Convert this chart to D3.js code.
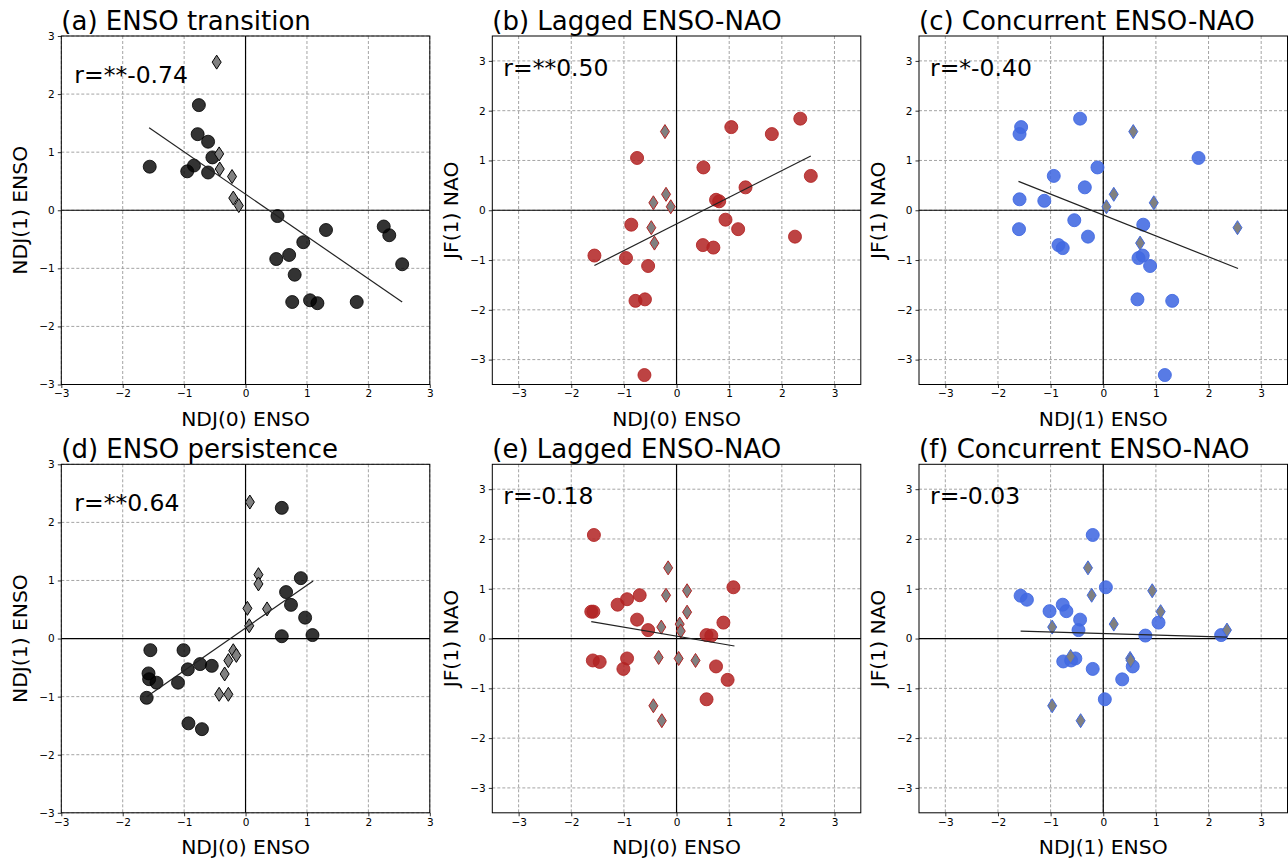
<!DOCTYPE html>
<html>
<head>
<meta charset="utf-8">
<script src="https://cdn.jsdelivr.net/npm/d3@7"></script>
<style>
  html, body { margin: 0; padding: 0; background: #fff; }
  svg { display: block; font-family: "DejaVu Sans", sans-serif; }
</style>
</head>
<body>
<script>
// ---------------- DATA ----------------
const tickValues = [-3, -2, -1, 0, 1, 2, 3];

// (a) ENSO transition: NDJ(0) ENSO vs NDJ(1) ENSO
const aCircX = [-1.56, -0.76, -0.78, -0.61, -0.54, -0.84, -0.95, -0.61, 0.52, 1.31, 0.94, 0.50, 0.71, 0.80, 0.76, 1.05, 1.17, 1.81, 2.25, 2.34, 2.55];
const aCircY = [0.75, 1.81, 1.31, 1.18, 0.91, 0.77, 0.67, 0.65, -0.10, -0.34, -0.55, -0.84, -0.77, -1.11, -1.58, -1.55, -1.60, -1.58, -0.28, -0.43, -0.93];
const aDiaX = [-0.47, -0.43, -0.42, -0.22, -0.20, -0.11];
const aDiaY = [2.55, 0.97, 0.71, 0.58, 0.21, 0.08];
const aFitX = [-1.57, 2.55];
const aFitY = [1.42, -1.58];

// (b) Lagged ENSO-NAO: NDJ(0) ENSO vs JF(1) NAO
const bCircX = [-1.56, -0.96, -0.75, -0.86, -0.54, -0.78, -0.60, -0.61, 0.51, 1.04, 0.75, 0.81, 1.31, 0.93, 1.17, 0.50, 0.70, 1.81, 2.35, 2.55, 2.25];
const bCircY = [-0.91, -0.96, 1.05, -0.29, -1.12, -1.82, -1.79, -3.31, 0.86, 1.67, 0.21, 0.18, 0.46, -0.19, -0.38, -0.70, -0.75, 1.53, 1.84, 0.69, -0.53];
const bDiaX = [-0.22, -0.20, -0.44, -0.11, -0.48, -0.42];
const bDiaY = [1.58, 0.32, 0.15, 0.07, -0.35, -0.66];
const bFitX = [-1.56, 2.55];
const bFitY = [-1.11, 1.09];

// (c) Concurrent ENSO-NAO: NDJ(1) ENSO vs JF(1) NAO
const cCircX = [-1.56, -1.59, -0.44, -1.59, -1.60, -0.94, -1.12, -0.35, -0.11, -0.55, -0.29, -0.85, -0.77, 0.76, 0.75, 0.67, 0.89, 0.65, 1.31, 1.81, 1.17];
const cCircY = [1.67, 1.53, 1.84, 0.22, -0.38, 0.69, 0.19, 0.46, 0.86, -0.20, -0.53, -0.70, -0.76, -0.29, -0.91, -0.96, -1.12, -1.79, -1.82, 1.05, -3.31];
const cDiaX = [0.57, 0.20, 0.06, 0.96, 0.70, 2.55];
const cDiaY = [1.58, 0.32, 0.07, 0.15, -0.66, -0.35];
const cFitX = [-1.61, 2.56];
const cFitY = [0.58, -1.17];

// (d) ENSO persistence: NDJ(0) ENSO vs NDJ(1) ENSO
const dCircX = [-1.55, -1.58, -1.57, -1.45, -1.61, -1.01, -0.94, -0.74, -0.55, -1.10, -0.93, -0.71, 0.59, 0.90, 0.66, 0.74, 0.97, 0.59, 1.09];
const dCircY = [-0.20, -0.60, -0.70, -0.76, -1.02, -0.20, -0.53, -0.44, -0.47, -0.76, -1.46, -1.56, 2.25, 1.04, 0.80, 0.58, 0.36, 0.04, 0.06];
const dDiaX = [0.07, 0.21, 0.21, 0.03, 0.35, 0.06, -0.20, -0.15, -0.28, -0.34, -0.43, -0.28];
const dDiaY = [2.35, 1.10, 0.94, 0.52, 0.51, 0.22, -0.21, -0.29, -0.38, -0.61, -0.96, -0.96];
const dFitX = [-1.61, 1.10];
const dFitY = [-1.00, 0.99];

// (e) Lagged ENSO-NAO: NDJ(0) ENSO vs JF(1) NAO
const eCircX = [-1.57, -1.62, -1.58, -1.59, -1.46, -1.12, -0.94, -0.70, -0.75, -0.54, -0.94, -1.01, 1.08, 0.89, 0.57, 0.66, 0.75, 0.97, 0.57];
const eCircY = [2.08, 0.54, 0.54, -0.44, -0.47, 0.68, 0.79, 0.87, 0.38, 0.17, -0.40, -0.61, 1.03, 0.32, 0.07, 0.06, -0.56, -0.83, -1.22];
const eDiaX = [-0.16, -0.20, 0.20, 0.20, -0.29, 0.06, 0.08, -0.34, 0.04, 0.36, -0.44, -0.28];
const eDiaY = [1.42, 0.87, 0.96, 0.53, 0.23, 0.29, 0.15, -0.38, -0.40, -0.44, -1.35, -1.65];
const eFitX = [-1.62, 1.10];
const eFitY = [0.34, -0.15];

// (f) Concurrent ENSO-NAO: NDJ(1) ENSO vs JF(1) NAO
const fCircX = [-0.20, 0.05, -1.57, -1.45, -1.02, -0.77, -0.70, -0.44, -0.47, 0.80, 1.05, 2.24, -0.76, -0.61, -0.53, -0.20, 0.36, 0.56, 0.03];
const fCircY = [2.08, 1.03, 0.86, 0.78, 0.55, 0.68, 0.55, 0.38, 0.17, 0.06, 0.32, 0.07, -0.46, -0.44, -0.40, -0.61, -0.82, -0.56, -1.22];
const fDiaX = [-0.29, -0.22, -0.97, 0.20, 0.93, 1.09, 2.35, -0.62, 0.51, 0.52, -0.97, -0.43];
const fDiaY = [1.42, 0.87, 0.23, 0.29, 0.96, 0.54, 0.17, -0.36, -0.40, -0.44, -1.35, -1.65];
const fFitX = [-1.57, 2.35];
const fFitY = [0.15, 0.03];

const titles = ["(a) ENSO transition", "(b) Lagged ENSO-NAO", "(c) Concurrent ENSO-NAO",
                "(d) ENSO persistence", "(e) Lagged ENSO-NAO", "(f) Concurrent ENSO-NAO"];
const xLabels = ["NDJ(0) ENSO", "NDJ(0) ENSO", "NDJ(1) ENSO", "NDJ(0) ENSO", "NDJ(0) ENSO", "NDJ(1) ENSO"];
const yLabels = ["NDJ(1) ENSO", "JF(1) NAO", "JF(1) NAO", "NDJ(1) ENSO", "JF(1) NAO", "JF(1) NAO"];
const rTexts = ["r=**-0.74", "r=**0.50", "r=*-0.40", "r=**0.64", "r=-0.18", "r=-0.03"];
const domains = [[-3, 3], [-3.5, 3.5], [-3.5, 3.5], [-3, 3], [-3.5, 3.5], [-3.5, 3.5]];

// ---------------- LAYOUT ----------------
const W = 1288, H = 858;
const colLeft = [61.3, 492.3, 919];
const plotW = 368.5;
const rowTop = [36, 464.3];
const plotH = 348.5;
const colorSets = [
  { fill: "#000000", op: 0.8 },
  { fill: "#b22222", op: 0.85 },
  { fill: "#4169e1", op: 0.88 }
];
const rTextY = [[47, 40, 40], [47, 40, 40]]; // baseline offsets from plot top
const rTextX = [13, 11, 11];

const circX = [aCircX, bCircX, cCircX, dCircX, eCircX, fCircX];
const circY = [aCircY, bCircY, cCircY, dCircY, eCircY, fCircY];
const diaX = [aDiaX, bDiaX, cDiaX, dDiaX, eDiaX, fDiaX];
const diaY = [aDiaY, bDiaY, cDiaY, dDiaY, eDiaY, fDiaY];
const fitX = [aFitX, bFitX, cFitX, dFitX, eFitX, fFitX];
const fitY = [aFitY, bFitY, cFitY, dFitY, eFitY, fFitY];

const svg = d3.select("body").append("svg").attr("width", W).attr("height", H);

const diamondPath = (w, h) => `M0,${-h/2}L${w/2},0L0,${h/2}L${-w/2},0Z`;

for (let i = 0; i < 6; i++) {
  const row = Math.floor(i / 3), col = i % 3;
  const left = colLeft[col], top = rowTop[row];
  const cs = colorSets[col];
  const x = d3.scaleLinear().domain(domains[i]).range([0, plotW]);
  const y = d3.scaleLinear().domain(domains[i]).range([plotH, 0]);
  const g = svg.append("g").attr("transform", `translate(${left},${top})`);

  // grid
  const grid = g.append("g");
  grid.selectAll("line.vx").data(tickValues).join("line")
    .attr("x1", d => x(d)).attr("x2", d => x(d)).attr("y1", 0).attr("y2", plotH)
    .attr("stroke", "#9a9a9a").attr("stroke-width", 0.9).attr("stroke-dasharray", "3,2");
  grid.selectAll("line.hy").data(tickValues).join("line")
    .attr("y1", d => y(d)).attr("y2", d => y(d)).attr("x1", 0).attr("x2", plotW)
    .attr("stroke", "#9a9a9a").attr("stroke-width", 0.9).attr("stroke-dasharray", "3,2");

  // zero lines
  g.append("line").attr("x1", x(0)).attr("x2", x(0)).attr("y1", 0).attr("y2", plotH)
    .attr("stroke", "#000").attr("stroke-width", 1.2);
  g.append("line").attr("y1", y(0)).attr("y2", y(0)).attr("x1", 0).attr("x2", plotW)
    .attr("stroke", "#000").attr("stroke-width", 1.2);

  // axes
  const fmt = d3.format("d");
  const xAxis = d3.axisBottom(x).tickValues(tickValues).tickFormat(fmt).tickSize(3.5).tickPadding(2);
  const yAxis = d3.axisLeft(y).tickValues(tickValues).tickFormat(fmt).tickSize(3.5).tickPadding(3);
  const gx = g.append("g").attr("transform", `translate(0,${plotH})`).call(xAxis);
  const gy = g.append("g").call(yAxis);
  [gx, gy].forEach(a => {
    a.select(".domain").remove();
    a.selectAll("text").attr("font-size", 10.5).attr("font-family", "DejaVu Sans").attr("fill", "#000");
    a.selectAll("line").attr("stroke", "#000").attr("stroke-width", 0.8);
  });

  // circles
  const pts = circX[i].map((v, k) => [v, circY[i][k]]);
  g.append("g").selectAll("circle").data(pts).join("circle")
    .attr("cx", d => x(d[0])).attr("cy", d => y(d[1])).attr("r", 6.5)
    .attr("fill", cs.fill).attr("fill-opacity", cs.op)
    .attr("stroke", cs.fill).attr("stroke-opacity", cs.op).attr("stroke-width", 1);

  // diamonds
  const dps = diaX[i].map((v, k) => [v, diaY[i][k]]);
  g.append("g").selectAll("path").data(dps).join("path")
    .attr("d", diamondPath(9, 14))
    .attr("transform", d => `translate(${x(d[0])},${y(d[1])})`)
    .attr("fill", "#808080").attr("stroke", cs.fill).attr("stroke-width", 1);

  // fit line
  const fl = fitX[i].map((v, k) => [v, fitY[i][k]]);
  g.append("path").datum(fl)
    .attr("d", d3.line().x(d => x(d[0])).y(d => y(d[1])))
    .attr("stroke", "#222").attr("stroke-width", 1.2).attr("fill", "none");

  // frame
  g.append("rect").attr("x", 0).attr("y", 0).attr("width", plotW).attr("height", plotH)
    .attr("fill", "none").attr("stroke", "#000").attr("stroke-width", 1);

  // r text
  g.append("text").attr("x", rTextX[col]).attr("y", rTextY[row][col])
    .attr("font-size", 23.5).attr("fill", "#000").text(rTexts[i]);

  // title
  g.append("text").attr("x", 0).attr("y", -6)
    .attr("font-size", 26).attr("fill", "#000").text(titles[i]);

  // x label
  g.append("text").attr("x", plotW / 2).attr("y", plotH + 41)
    .attr("text-anchor", "middle").attr("font-size", 20.3).attr("fill", "#000").text(xLabels[i]);

  // y label
  g.append("text").attr("transform", `translate(${-34},${plotH / 2}) rotate(-90)`)
    .attr("text-anchor", "middle").attr("font-size", 20.3).attr("fill", "#000").text(yLabels[i]);
}
</script>
</body>
</html>
